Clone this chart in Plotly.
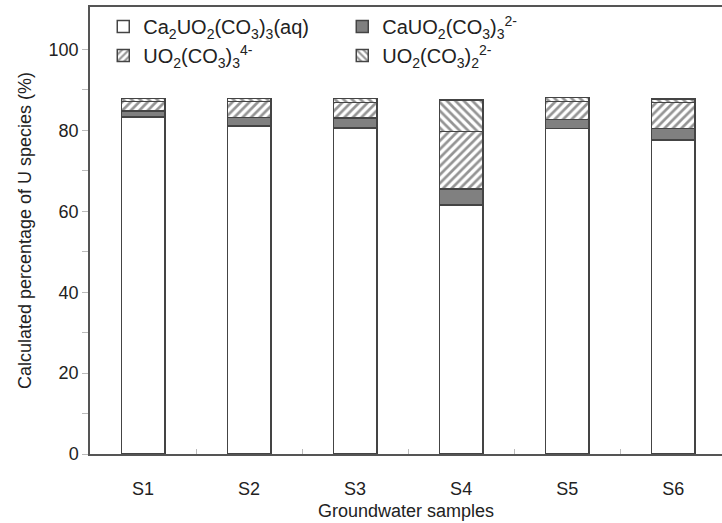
import plotly.graph_objects as go

samples = ["S1", "S2", "S3", "S4", "S5", "S6"]
ca2_aq = [83.3, 81.1, 80.6, 61.5, 80.5, 77.6]
ca_2m = [1.5, 2.1, 2.4, 4.0, 2.2, 2.9]
uo2_co3_3 = [2.3, 3.9, 3.9, 14.2, 4.4, 6.4]
uo2_co3_2 = [0.8, 0.8, 1.0, 7.8, 1.0, 0.8]

names = [
    "Ca<sub>2</sub>UO<sub>2</sub>(CO<sub>3</sub>)<sub>3</sub>(aq)",
    "CaUO<sub>2</sub>(CO<sub>3</sub>)<sub>3</sub><sup>2-</sup>",
    "UO<sub>2</sub>(CO<sub>3</sub>)<sub>3</sub><sup>4-</sup>",
    "UO<sub>2</sub>(CO<sub>3</sub>)<sub>2</sub><sup>2-</sup>",
]

line = dict(color="#444444", width=1.5)
fig = go.Figure()
fig.add_trace(go.Bar(x=samples, y=ca2_aq, name=names[0],
                     marker=dict(color="white", line=line)))
fig.add_trace(go.Bar(x=samples, y=ca_2m, name=names[1],
                     marker=dict(color="#808080", line=line)))
fig.add_trace(go.Bar(x=samples, y=uo2_co3_3, name=names[2],
                     marker=dict(color="white", line=line,
                                 pattern=dict(shape="/", fgcolor="#2a2a2a", bgcolor="white",
                                              size=6, solidity=0.45))))
fig.add_trace(go.Bar(x=samples, y=uo2_co3_2, name=names[3],
                     marker=dict(color="white", line=line,
                                 pattern=dict(shape="\\", fgcolor="#2a2a2a", bgcolor="white",
                                              size=6, solidity=0.45))))

font = dict(family="Liberation Sans, Arial, sans-serif", size=17, color="#222222")
fig.update_layout(
    barmode="stack",
    bargap=0.59,
    width=722, height=523,
    margin=dict(l=90, r=0, t=7, b=69),
    paper_bgcolor="white", plot_bgcolor="white",
    font=font,
    showlegend=True,
    legend=dict(orientation="h", x=0.021, y=1.0, xanchor="left", yanchor="top",
                entrywidth=194, entrywidthmode="pixels",
                bgcolor="rgba(0,0,0,0)", font=dict(size=20), traceorder="normal"),
)
fig.update_xaxes(
    range=[-0.5, 5.46], showline=True, linecolor="#555555", linewidth=1.5, mirror=True,
    ticks="inside", tickson="boundaries", ticklen=5, tickcolor="#bbbbbb",
    showgrid=False, zeroline=False, ticklabelstandoff=18,
    title=dict(text="Groundwater samples", standoff=6, font=dict(size=18)),
    tickfont=dict(size=18),
)
fig.update_yaxes(
    range=[0, 110.5], showline=True, linecolor="#555555", linewidth=1.5, mirror=False,
    tickvals=[0, 20, 40, 60, 80, 100], ticks="outside", ticklen=6, tickcolor="#bbbbbb",
    minor=dict(tickvals=[10, 30, 50, 70, 90], ticks="outside", ticklen=6, tickcolor="#bbbbbb"),
    showgrid=False, zeroline=False,
    title=dict(text="Calculated percentage of U species (%)", standoff=12, font=dict(size=18)),
    tickfont=dict(size=18),
)
fig.write_html("out.html")
